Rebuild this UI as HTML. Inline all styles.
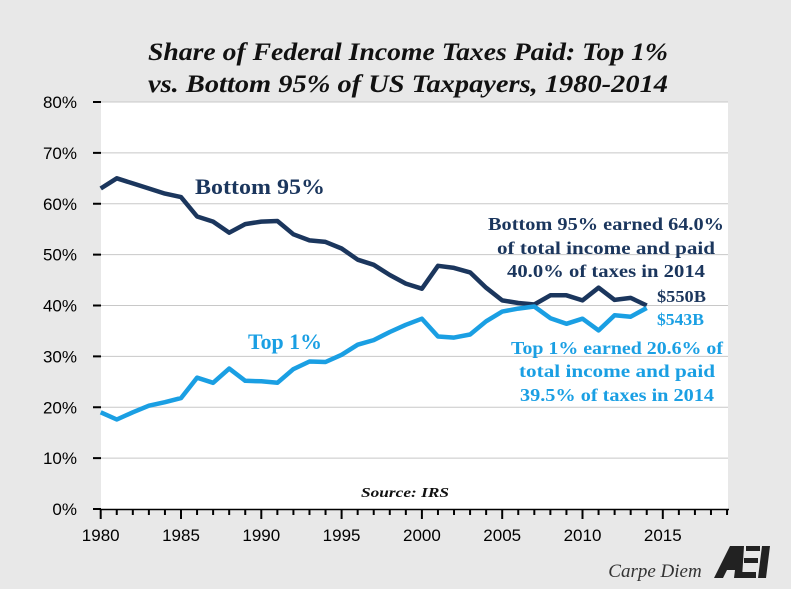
<!DOCTYPE html>
<html><head><meta charset="utf-8"><style>
html,body{margin:0;padding:0;background:#e8e8e8;}
svg{display:block;}
</style></head><body>
<svg id="chart" width="791" height="589" viewBox="0 0 791 589" xmlns="http://www.w3.org/2000/svg">
<rect x="0" y="0" width="791" height="589" fill="#e8e8e8"/>
<rect x="101" y="102" width="627" height="407" fill="#ffffff"/>
<g id="grid"></g>
<g id="axes"></g>
<g id="series"></g>
<text x="408" y="60" text-anchor="middle" textLength="520" lengthAdjust="spacingAndGlyphs" font-family="Liberation Serif, serif" font-style="italic" font-weight="bold" font-size="25" fill="#111">Share of Federal Income Taxes Paid: Top 1%</text>
<text x="408" y="92" text-anchor="middle" textLength="520" lengthAdjust="spacingAndGlyphs" font-family="Liberation Serif, serif" font-style="italic" font-weight="bold" font-size="25" fill="#111">vs. Bottom 95% of US Taxpayers, 1980-2014</text>
<text x="195" y="194" textLength="130" lengthAdjust="spacingAndGlyphs" font-family="Liberation Serif, serif" font-weight="bold" font-size="22" fill="#1b365d">Bottom 95%</text>
<text x="248" y="349" textLength="74" lengthAdjust="spacingAndGlyphs" font-family="Liberation Serif, serif" font-weight="bold" font-size="22" fill="#1a9fe3">Top 1%</text>
<g font-family="Liberation Serif, serif" font-weight="bold" font-size="18" fill="#1b365d" text-anchor="middle" lengthAdjust="spacingAndGlyphs">
<text x="606" y="230" textLength="236" lengthAdjust="spacingAndGlyphs">Bottom 95% earned 64.0%</text>
<text x="606" y="254" textLength="218" lengthAdjust="spacingAndGlyphs">of total income and paid</text>
<text x="606" y="277" textLength="198" lengthAdjust="spacingAndGlyphs">40.0% of taxes in 2014</text>
</g>
<text x="657" y="302" textLength="49" lengthAdjust="spacingAndGlyphs" font-family="Liberation Serif, serif" font-weight="bold" font-size="17" fill="#1b365d">$550B</text>
<text x="657" y="325" textLength="47" lengthAdjust="spacingAndGlyphs" font-family="Liberation Serif, serif" font-weight="bold" font-size="17" fill="#1a9fe3">$543B</text>
<g font-family="Liberation Serif, serif" font-weight="bold" font-size="18" fill="#1a9fe3" text-anchor="middle">
<text x="617" y="354" textLength="212" lengthAdjust="spacingAndGlyphs">Top 1% earned 20.6% of</text>
<text x="617" y="377" textLength="196" lengthAdjust="spacingAndGlyphs">total income and paid</text>
<text x="617" y="401" textLength="194" lengthAdjust="spacingAndGlyphs">39.5% of taxes in 2014</text>
</g>
<text x="405" y="497" text-anchor="middle" textLength="88" lengthAdjust="spacingAndGlyphs" font-family="Liberation Serif, serif" font-style="italic" font-weight="bold" font-size="14" fill="#111">Source: IRS</text>
<text x="655" y="577" text-anchor="middle" font-family="Liberation Serif, serif" font-style="italic" font-size="19" fill="#333">Carpe Diem</text>
<g fill="#222">
<polygon points="714,578 730,546 744,546 742,578 734,578 735,570 727,570 723,578"/>
<rect x="746" y="546" width="14" height="5"/>
<rect x="744" y="558" width="14" height="5"/>
<rect x="742" y="572" width="14" height="6"/>
<polygon points="762,546 770,546 766,578 758,578"/>
</g>
</svg>
<script>
const years = [1980,1981,1982,1983,1984,1985,1986,1987,1988,1989,1990,1991,1992,1993,1994,1995,1996,1997,1998,1999,2000,2001,2002,2003,2004,2005,2006,2007,2008,2009,2010,2011,2012,2013,2014];
const bottom95 = [63,65,64,63,62,61.3,57.5,56.5,54.3,56,56.5,56.6,54,52.8,52.5,51.2,49,48,46,44.3,43.3,47.8,47.4,46.5,43.5,41,40.5,40.2,42,42,41,43.5,41.1,41.5,40];
const top1 = [19,17.6,19,20.3,21,21.8,25.8,24.8,27.6,25.2,25.1,24.8,27.5,29,28.9,30.3,32.3,33.2,34.8,36.2,37.4,33.9,33.7,34.3,36.9,38.8,39.4,39.8,37.5,36.4,37.4,35.1,38.1,37.8,39.5];
const yTicks = [0,10,20,30,40,50,60,70,80];
const xLabels = [1980,1985,1990,1995,2000,2005,2010,2015];

const NS = "http://www.w3.org/2000/svg";
const x = yr => 100.7 + (yr - 1980) * 16.06;
const y = v => 509 - v * 5.0875;
function mk(tag, attrs, parent){const e=document.createElementNS(NS,tag);for(const k in attrs)e.setAttribute(k,attrs[k]);parent.appendChild(e);return e;}
const grid=document.getElementById('grid'), axes=document.getElementById('axes'), series=document.getElementById('series');

yTicks.forEach(v=>{
  if(v>0){
    const g=mk('line',{x1:101,x2:728,y1:y(v),y2:y(v),stroke:'#c8c8c8','stroke-width':1},grid);
    
    
  }
  const t=mk('line',{x1:93,x2:101,y1:y(v),y2:y(v),stroke:'#000','stroke-width':2},axes);
  
  
  const l=mk('text',{x:77,y:y(v)+6,'text-anchor':'end','font-family':'Liberation Sans, sans-serif','font-size':17,fill:'#000'},axes);
  l.textContent=v+'%';
  
  
});
const ax=mk('line',{x1:100,x2:729,y1:509.5,y2:509.5,stroke:'#000','stroke-width':1.5},axes);


for(let yr=1980;yr<=2019;yr++){
  const major=(yr%5===0);
  const t=mk('line',{x1:x(yr),x2:x(yr),y1:509,y2:major?519:515,stroke:'#000','stroke-width':2},axes);
  
  
}
xLabels.forEach(yr=>{
  const l=mk('text',{x:x(yr),y:541,'text-anchor':'middle','font-family':'Liberation Sans, sans-serif','font-size':17,fill:'#000'},axes);
  l.textContent=yr;
  
  
});
function line(vals,color,name){
  const d=vals.map((v,i)=>(i?'L':'M')+x(years[i]).toFixed(1)+','+y(v).toFixed(1)).join(' ');
  const p=mk('path',{d:d,fill:'none',stroke:color,'stroke-width':4.5,'stroke-linejoin':'round'},series);
  
  
}
line(bottom95,'#1b365d','bottom-95-line');
line(top1,'#1a9fe3','top-1-line');
</script>
</body></html>
